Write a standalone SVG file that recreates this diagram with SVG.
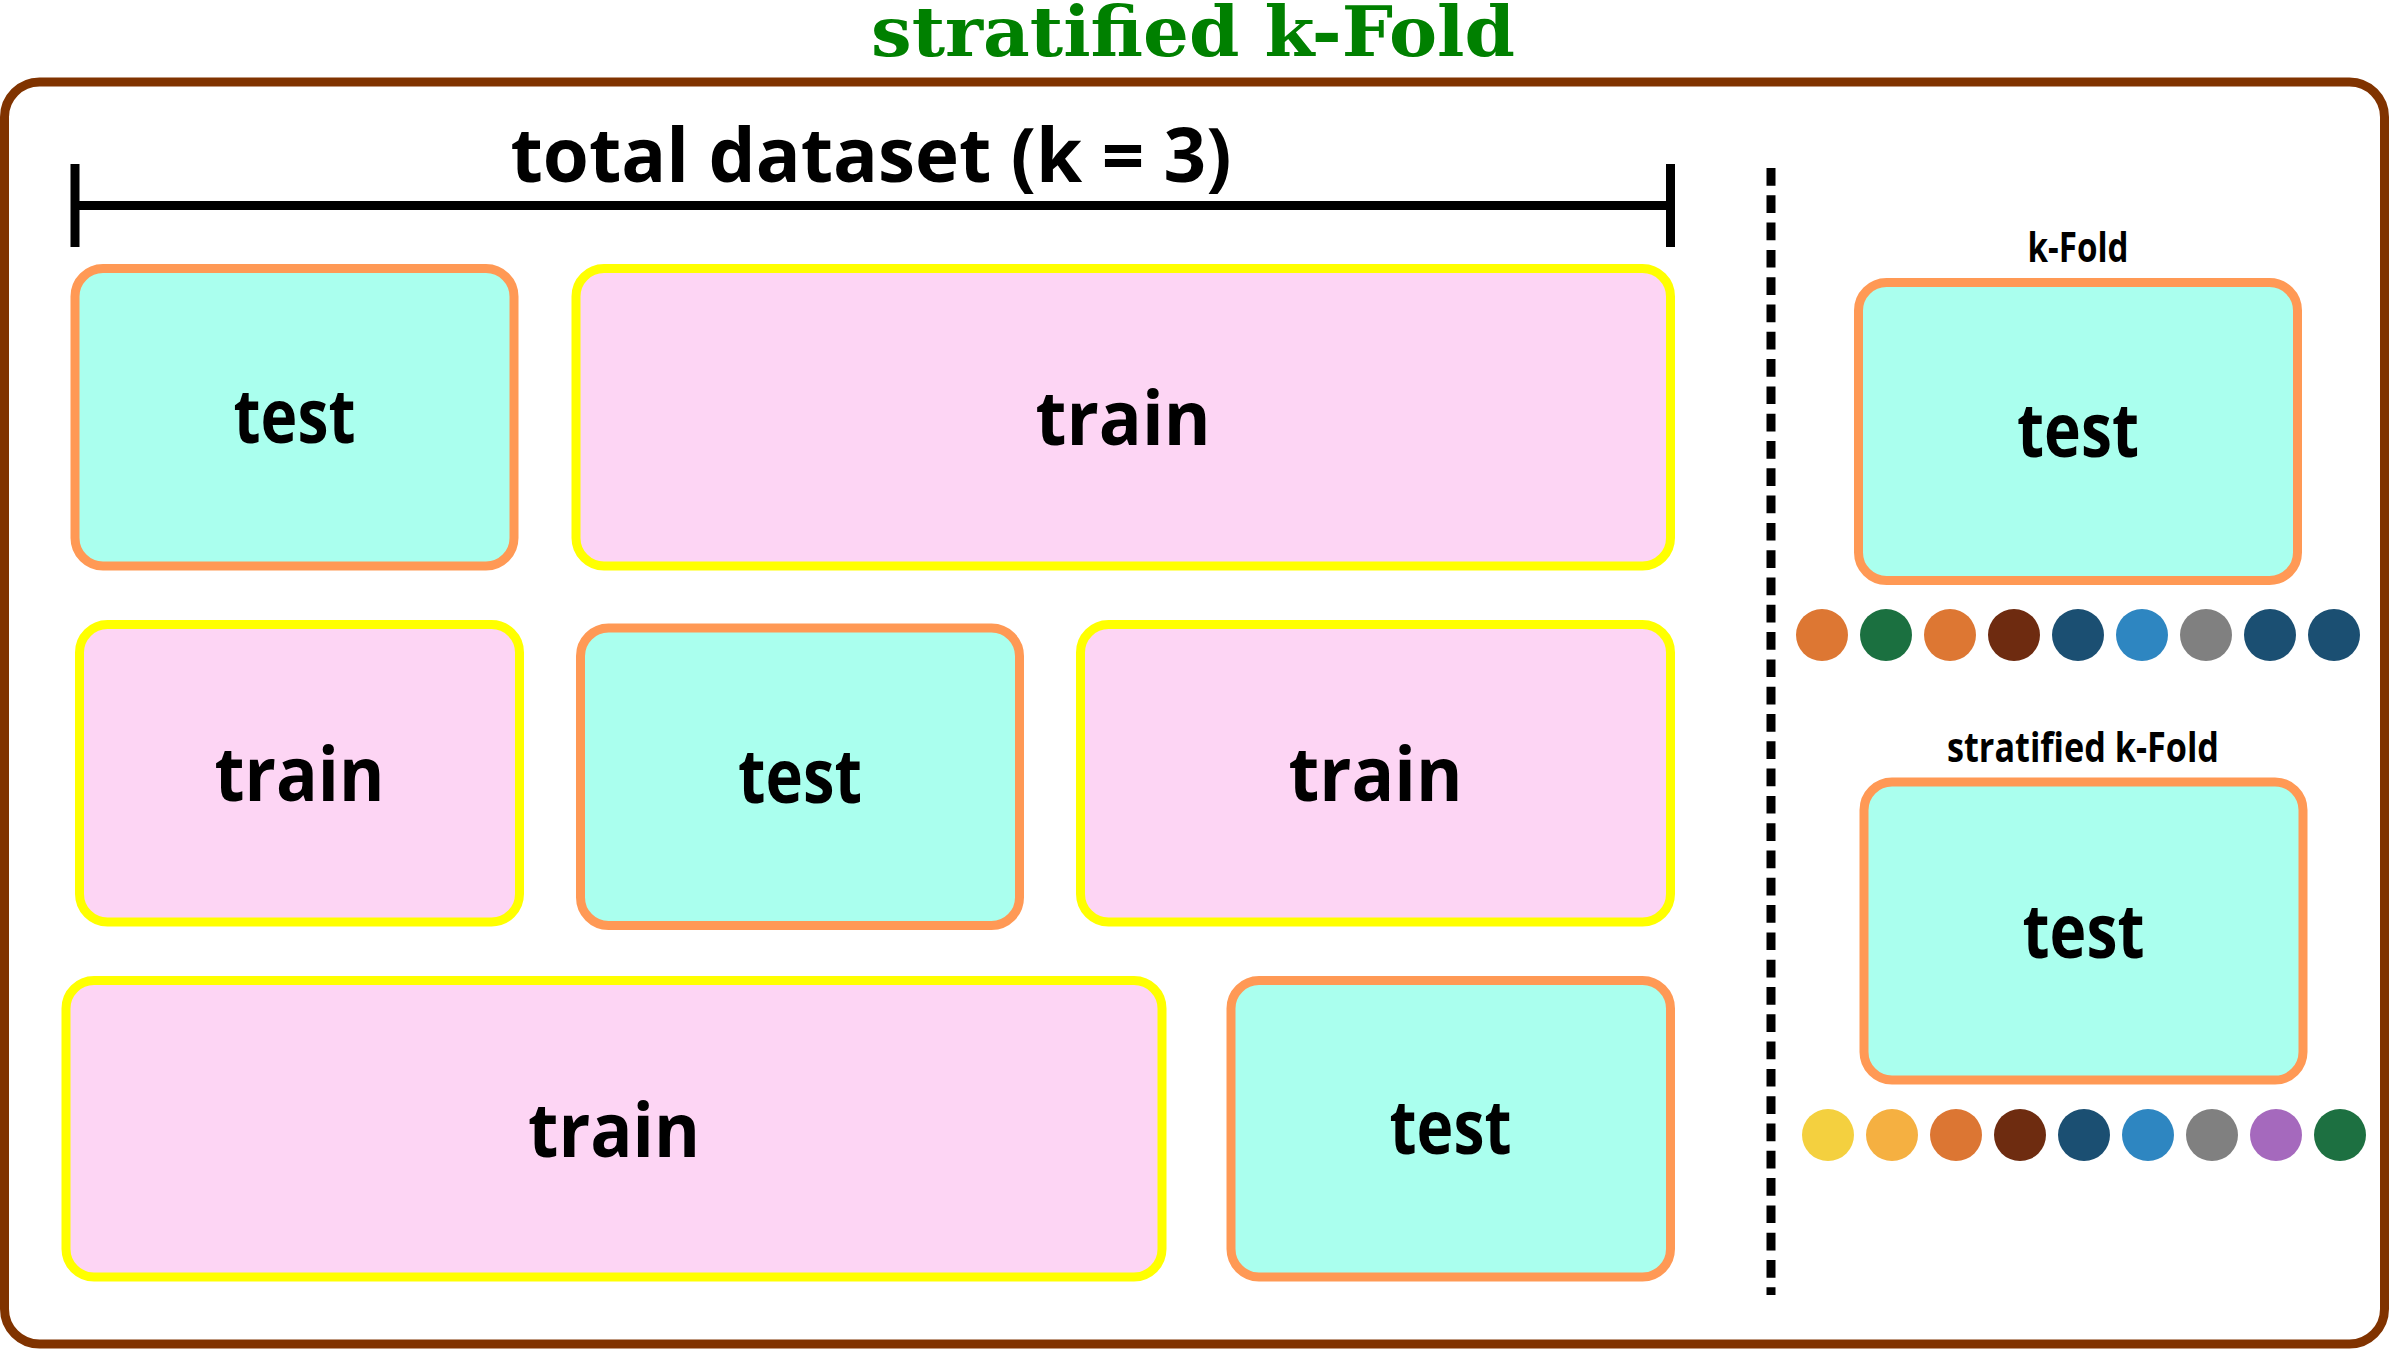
<svg xmlns="http://www.w3.org/2000/svg" width="2389" height="1350" viewBox="0 0 2389 1350">
<style>
.test{fill:#aaffee;stroke:#ff9955;stroke-width:9}
.train{fill:#fdd5f4;stroke:#ffff00;stroke-width:9}
.lbl{font-family:"Open Sans","Noto Sans","Liberation Sans",sans-serif;font-weight:700;font-size:76px;fill:#000;text-anchor:middle}
.sub{font-family:"Open Sans","Noto Sans","Liberation Sans",sans-serif;font-weight:700;font-size:42px;fill:#000;text-anchor:middle}
.title{font-family:"DejaVu Serif","Liberation Serif",serif;font-weight:700;font-size:69px;fill:#008000;text-anchor:middle}
</style>
<rect width="2389" height="1350" fill="#ffffff"/>
<rect id="frame" x="4.5" y="82" width="2380" height="1262" rx="35" fill="#ffffff" stroke="#803300" stroke-width="9"/>
<text id="title" class="title" x="1193" y="56" textLength="644" lengthAdjust="spacingAndGlyphs">stratified k-Fold</text>

<g id="dataset-bar">
<path d="M75,164V247M75,205.5H1670.5M1670.5,164V247" fill="none" stroke="#000" stroke-width="9"/>
<text class="lbl" x="871" y="182" textLength="721" lengthAdjust="spacingAndGlyphs">total dataset (k = 3)</text>
</g>

<g id="divider">
<line x1="1771" y1="168" x2="1771" y2="1295" stroke="#000" stroke-width="9" stroke-dasharray="17.7 9.6"/>
</g>

<g id="fold1-test"><rect class="test" x="75" y="268.5" width="439" height="297.5" rx="28"/><text class="lbl" x="294.5" y="443" textLength="122" lengthAdjust="spacingAndGlyphs">test</text></g>
<g id="fold1-train"><rect class="train" x="576" y="268.5" width="1094.5" height="297.5" rx="28"/><text class="lbl" x="1123" y="445" textLength="175" lengthAdjust="spacingAndGlyphs">train</text></g>

<g id="fold2-train-a"><rect class="train" x="79.5" y="624.5" width="440" height="297.5" rx="28"/><text class="lbl" x="299.5" y="801" textLength="170" lengthAdjust="spacingAndGlyphs">train</text></g>
<g id="fold2-test"><rect class="test" x="580.5" y="628" width="439" height="297.5" rx="28"/><text class="lbl" x="800" y="803" textLength="124" lengthAdjust="spacingAndGlyphs">test</text></g>
<g id="fold2-train-b"><rect class="train" x="1080.5" y="624.5" width="590" height="297.5" rx="28"/><text class="lbl" x="1375.5" y="801" textLength="174" lengthAdjust="spacingAndGlyphs">train</text></g>

<g id="fold3-train"><rect class="train" x="66" y="980.5" width="1096" height="296.5" rx="28"/><text class="lbl" x="614" y="1157" textLength="172" lengthAdjust="spacingAndGlyphs">train</text></g>
<g id="fold3-test"><rect class="test" x="1231" y="980.5" width="439.5" height="296.5" rx="28"/><text class="lbl" x="1450.5" y="1154" textLength="122" lengthAdjust="spacingAndGlyphs">test</text></g>

<g id="kfold">
<text class="sub" x="2078" y="262" textLength="101" lengthAdjust="spacingAndGlyphs">k-Fold</text>
<rect class="test" x="1858.5" y="282.5" width="439" height="298" rx="28"/>
<text class="lbl" x="2078" y="457" textLength="122" lengthAdjust="spacingAndGlyphs">test</text>
</g>
<g id="kfold-samples">
<circle cx="1822" cy="635" r="26" fill="#dd7733"/>
<circle cx="1886" cy="635" r="26" fill="#1b7040"/>
<circle cx="1950" cy="635" r="26" fill="#dd7733"/>
<circle cx="2014" cy="635" r="26" fill="#6e2b10"/>
<circle cx="2078" cy="635" r="26" fill="#1b4f72"/>
<circle cx="2142" cy="635" r="26" fill="#2e86c1"/>
<circle cx="2206" cy="635" r="26" fill="#808080"/>
<circle cx="2270" cy="635" r="26" fill="#1b4f72"/>
<circle cx="2334" cy="635" r="26" fill="#1b4f72"/>
</g>

<g id="stratified">
<text class="sub" x="2083" y="762" textLength="272" lengthAdjust="spacingAndGlyphs">stratified k-Fold</text>
<rect class="test" x="1864" y="782" width="439" height="298" rx="28"/>
<text class="lbl" x="2083.5" y="958" textLength="122" lengthAdjust="spacingAndGlyphs">test</text>
</g>
<g id="stratified-samples">
<circle cx="1828" cy="1135" r="26" fill="#f4d03f"/>
<circle cx="1892" cy="1135" r="26" fill="#f5b041"/>
<circle cx="1956" cy="1135" r="26" fill="#dc7633"/>
<circle cx="2020" cy="1135" r="26" fill="#6e2c10"/>
<circle cx="2084" cy="1135" r="26" fill="#1b4f72"/>
<circle cx="2148" cy="1135" r="26" fill="#2e86c1"/>
<circle cx="2212" cy="1135" r="26" fill="#808080"/>
<circle cx="2276" cy="1135" r="26" fill="#a569bd"/>
<circle cx="2340" cy="1135" r="26" fill="#1d7041"/>
</g>
</svg>
